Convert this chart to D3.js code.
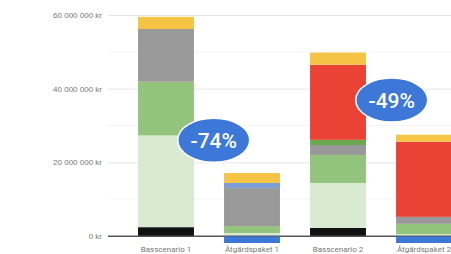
<!DOCTYPE html>
<html>
<head>
<meta charset="utf-8">
<script src="https://cdn.jsdelivr.net/npm/d3@7"></script>
<style>
  html, body { margin: 0; padding: 0; background: #fff; }
  svg { display: block; font-family: Roboto, "Noto Sans", sans-serif; }
</style>
</head>
<body>
<svg id="chart" width="451" height="254"></svg>
<script>
// categories along the x axis
const categories = ['Basscenario 1', 'Åtgärdspaket 1', 'Basscenario 2', 'Åtgärdspaket 2'];

// stacked series, values in kr (bottom to top)
const svart = [2.4e6, 0, 2.2e6, 0];
const ljusgron = [24.9e6, 0.8e6, 12.2e6, 0.5e6];
const gron = [14.6e6, 1.9e6, 7.6e6, 2.8e6];
const gra = [14.3e6, 10.3e6, 2.7e6, 1.9e6];
const blagra = [0, 1.4e6, 0, 0];
const morkgron = [0, 0, 1.4e6, 0];
const rod = [0, 0, 20.4e6, 20.4e6];
const gul = [3.3e6, 2.7e6, 3.3e6, 1.9e6];
const bla = [0, -1.9e6, 0, -1.9e6];

const tickValues = [0, 20e6, 40e6, 60e6];
const tickLabels = ['0 kr', '20 000 000 kr', '40 000 000 kr', '60 000 000 kr'];
const minorTicks = [10e6, 30e6, 50e6];

const annotations = [
  { text: '-74%', cat: 'Åtgärdspaket 1', shift: -0.12, value: 26e6 },
  { text: '-49%', cat: 'Åtgärdspaket 2', shift: -0.05, value: 36.9e6 }
];

const seriesDefs = [
  { key: 'svart', values: svart, color: '#111111' },
  { key: 'ljusgron', values: ljusgron, color: '#d9ead3' },
  { key: 'gron', values: gron, color: '#93c47d' },
  { key: 'gra', values: gra, color: '#999999' },
  { key: 'blagra', values: blagra, color: '#7d9fd6' },
  { key: 'morkgron', values: morkgron, color: '#6aa84f' },
  { key: 'rod', values: rod, color: '#ea4335' },
  { key: 'gul', values: gul, color: '#f6c445' },
  { key: 'bla', values: bla, color: '#3c78d8' }
];

const table = categories.map((c, i) => {
  const row = { cat: c };
  seriesDefs.forEach(s => { row[s.key] = s.values[i]; });
  return row;
});

const svg = d3.select('#chart');
const width = 451, height = 254;

const x = d3.scaleBand()
  .domain(categories)
  .range([123, 467])
  .paddingInner(0.35)
  .paddingOuter(0.175);

const y = d3.scaleLinear()
  .domain([0, 60e6])
  .range([236, 15]);

// grid
svg.append('g')
  .selectAll('line.minor')
  .data(minorTicks)
  .join('line')
  .attr('x1', 108).attr('x2', width)
  .attr('y1', d => y(d)).attr('y2', d => y(d))
  .attr('stroke', '#f4f4f4');

const yAxis = d3.axisLeft(y)
  .tickValues(tickValues)
  .tickFormat((d, i) => tickLabels[i])
  .tickSize(-(width - 108))
  .tickPadding(6);

const yAxisG = svg.append('g')
  .attr('transform', 'translate(108,0)')
  .call(yAxis);
yAxisG.select('.domain').remove();
yAxisG.selectAll('.tick line').attr('stroke', d => d === 0 ? '#555' : '#e6e6e6');
yAxisG.selectAll('.tick text')
  .attr('fill', '#777')
  .style('font-size', '8px');

// bars
const stack = d3.stack()
  .keys(seriesDefs.map(s => s.key))
  .offset(d3.stackOffsetDiverging);
const stacked = stack(table);
const colorOf = Object.fromEntries(seriesDefs.map(s => [s.key, s.color]));

svg.append('g')
  .selectAll('g')
  .data(stacked)
  .join('g')
  .attr('fill', d => colorOf[d.key])
  .selectAll('rect')
  .data(d => d)
  .join('rect')
  .attr('x', d => x(d.data.cat))
  .attr('width', x.bandwidth())
  .attr('y', d => y(Math.max(d[0], d[1])))
  .attr('height', d => Math.abs(y(d[0]) - y(d[1])));

// zero line on top
svg.append('line')
  .attr('x1', 108).attr('x2', width)
  .attr('y1', y(0)).attr('y2', y(0))
  .attr('stroke', '#555').attr('stroke-width', 1);

// category labels
svg.append('g')
  .selectAll('text')
  .data(categories)
  .join('text')
  .attr('x', d => x(d) + x.bandwidth() / 2)
  .attr('y', 252)
  .attr('text-anchor', 'middle')
  .attr('fill', '#777')
  .style('font-size', '8px')
  .text(d => d);

// percentage badges
const badge = svg.append('g')
  .selectAll('g')
  .data(annotations)
  .join('g')
  .attr('transform', d => `translate(${x(d.cat) + d.shift * x.step()},${y(d.value)})`);

badge.append('ellipse')
  .attr('rx', 36).attr('ry', 22)
  .attr('fill', '#3d78d8')
  .attr('stroke', '#fff').attr('stroke-width', 1.5);

badge.append('text')
  .attr('text-anchor', 'middle')
  .attr('dy', '0.36em')
  .attr('fill', '#fff')
  .style('font-size', '21px')
  .style('font-weight', '500')
  .text(d => d.text);
</script>
</body>
</html>
